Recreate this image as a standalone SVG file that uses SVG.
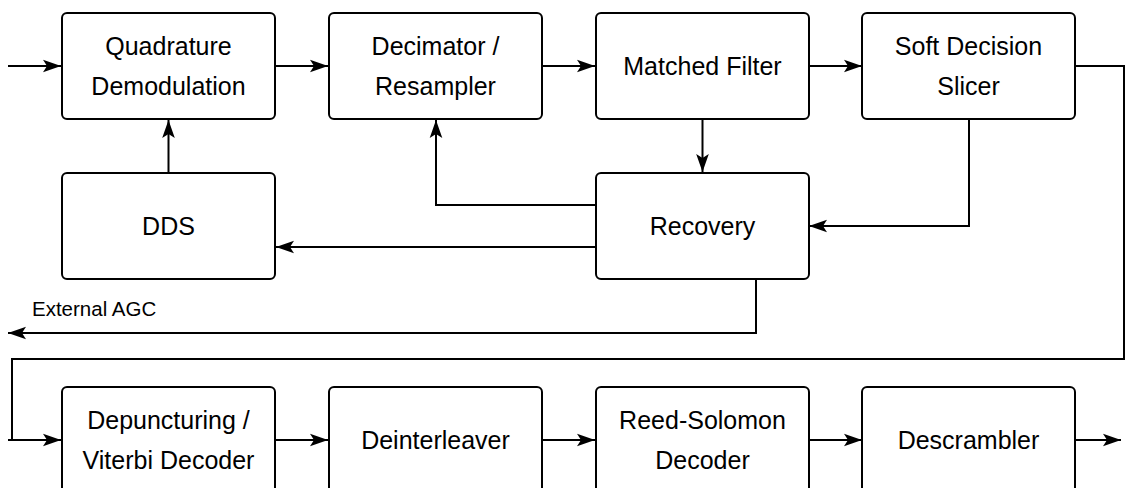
<svg xmlns="http://www.w3.org/2000/svg" width="1126" height="488" viewBox="0 0 1126 488">
<defs>
<marker id="ah" markerWidth="22" markerHeight="16" viewBox="-20 -8 22 16" refX="0" refY="0" orient="auto" markerUnits="userSpaceOnUse">
<path d="M0,0 L-18,-6.3 L-14,0 L-18,6.3 Z" fill="#000"/>
</marker>
</defs>
<style>
.box{fill:#fff;stroke:#000;stroke-width:2}
.t{font-family:"Liberation Sans",Arial,sans-serif;font-size:25px;fill:#000;text-anchor:middle}
.s{font-family:"Liberation Sans",Arial,sans-serif;font-size:20.5px;fill:#000}
.c{fill:none;stroke:#000;stroke-width:2}
</style>
<rect width="1126" height="488" fill="#fff"/>
<g id="connectors">
<path class="c" d="M8,66 H61" marker-end="url(#ah)"/>
<path class="c" d="M275,66 H328" marker-end="url(#ah)"/>
<path class="c" d="M542,66 H595" marker-end="url(#ah)"/>
<path class="c" d="M809,66 H862" marker-end="url(#ah)"/>
<path class="c" d="M1075,66 H1124 V359 H12 V440"/>
<path class="c" d="M8,440 H61" marker-end="url(#ah)"/>
<path class="c" d="M702.5,119 V172" marker-end="url(#ah)"/>
<path class="c" d="M969,119 V226 H809" marker-end="url(#ah)"/>
<path class="c" d="M596,205 H436 V120" marker-end="url(#ah)"/>
<path class="c" d="M596,247 H276" marker-end="url(#ah)"/>
<path class="c" d="M168.5,173 V120" marker-end="url(#ah)"/>
<path class="c" d="M756,279 V333 H8" marker-end="url(#ah)"/>
<path class="c" d="M275,440 H328" marker-end="url(#ah)"/>
<path class="c" d="M542,440 H595" marker-end="url(#ah)"/>
<path class="c" d="M809,440 H862" marker-end="url(#ah)"/>
<path class="c" d="M1075,440 H1121" marker-end="url(#ah)"/>
</g>
<text class="s" x="32" y="316">External AGC</text>
<g id="quad">
<rect class="box" x="62" y="13" width="213" height="106" rx="5"/>
<text class="t" x="168.5" y="55">Quadrature</text>
<text class="t" x="168.5" y="95">Demodulation</text>
</g>
<g id="decim">
<rect class="box" x="329" y="13" width="213" height="106" rx="5"/>
<text class="t" x="435.5" y="55">Decimator /</text>
<text class="t" x="435.5" y="95">Resampler</text>
</g>
<g id="matched">
<rect class="box" x="596" y="13" width="213" height="106" rx="5"/>
<text class="t" x="702.5" y="75">Matched Filter</text>
</g>
<g id="slicer">
<rect class="box" x="862" y="13" width="213" height="106" rx="5"/>
<text class="t" x="968.5" y="55">Soft Decision</text>
<text class="t" x="968.5" y="95">Slicer</text>
</g>
<g id="dds">
<rect class="box" x="62" y="173" width="213" height="106" rx="5"/>
<text class="t" x="168.5" y="235">DDS</text>
</g>
<g id="recovery">
<rect class="box" x="596" y="173" width="213" height="106" rx="5"/>
<text class="t" x="702.5" y="235">Recovery</text>
</g>
<g id="viterbi">
<rect class="box" x="62" y="387" width="213" height="106" rx="5"/>
<text class="t" x="168.5" y="429">Depuncturing /</text>
<text class="t" x="168.5" y="469">Viterbi Decoder</text>
</g>
<g id="deint">
<rect class="box" x="329" y="387" width="213" height="106" rx="5"/>
<text class="t" x="435.5" y="449">Deinterleaver</text>
</g>
<g id="rs">
<rect class="box" x="596" y="387" width="213" height="106" rx="5"/>
<text class="t" x="702.5" y="429">Reed-Solomon</text>
<text class="t" x="702.5" y="469">Decoder</text>
</g>
<g id="descr">
<rect class="box" x="862" y="387" width="213" height="106" rx="5"/>
<text class="t" x="968.5" y="449">Descrambler</text>
</g>
</svg>
